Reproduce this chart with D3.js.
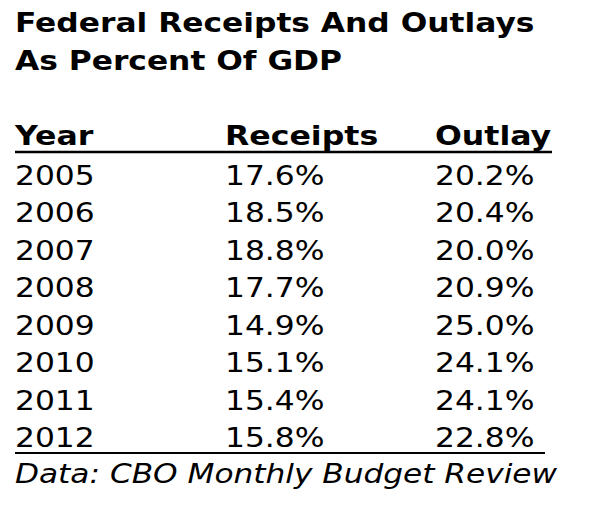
<!DOCTYPE html>
<html>
<head>
<meta charset="utf-8">
<style>
body {margin:0; background:#fff;}
text {font-family: "DejaVu Sans", Verdana, sans-serif; fill:#000;}
</style>
</head>
<body>
<div id="chart"></div>
<script src="https://d3js.org/d3.v7.min.js"></script>
<script>
var titleLines = ["Federal Receipts And Outlays", "As Percent Of GDP"];
var headers = ["Year", "Receipts", "Outlay"];
var years = ["2005","2006","2007","2008","2009","2010","2011","2012"];
var receipts = [17.6, 18.5, 18.8, 17.7, 14.9, 15.1, 15.4, 15.8];
var outlays = [20.2, 20.4, 20.0, 20.9, 25.0, 24.1, 24.1, 22.8];
var source = "Data: CBO Monthly Budget Review";

var W = 600, H = 509;
var svg = d3.select("#chart").append("svg").attr("width", W).attr("height", H);

// verdana is wider than dejavu, stretch horizontally
function place(x, y, sx) { return "translate(" + x + "," + y + ") scale(" + sx + ",1)"; }

svg.selectAll(".title").data(titleLines).join("text")
  .attr("transform", (d, i) => place(15, 32 + i * 38, 1.16))
  .attr("font-size", 27).attr("font-weight", "bold")
  .text(d => d);

var colX = {Year:15, Receipts:225, Outlay:435};
var rowY = d3.scaleLinear().domain([0, years.length - 1]).range([185, 447]);

svg.selectAll(".hdr").data(headers).join("text")
  .attr("transform", d => place(colX[d], 145, 1.17))
  .attr("font-size", 27).attr("font-weight", "bold")
  .text(d => d);
svg.append("line").attr("x1", 15).attr("x2", 552).attr("y1", 152).attr("y2", 152)
  .attr("stroke", "#000").attr("stroke-width", 2.5);

var rows = years.map((y, i) => [y, receipts[i].toFixed(1) + "%", outlays[i].toFixed(1) + "%"]);
var g = svg.selectAll(".row").data(rows).join("g")
  .attr("transform", (d, i) => "translate(0," + rowY(i) + ")");
g.selectAll("text").data(d => d).join("text")
  .attr("transform", (d, i) => place(colX[headers[i]], 0, 1.16))
  .attr("font-size", 27)
  .text(d => d);

svg.append("line").attr("x1", 15).attr("x2", 545).attr("y1", 453).attr("y2", 453)
  .attr("stroke", "#000").attr("stroke-width", 2);

svg.append("text").attr("transform", place(15, 483, 1.2))
  .attr("font-size", 26).attr("font-style", "italic")
  .text(source);
</script>
</body>
</html>
